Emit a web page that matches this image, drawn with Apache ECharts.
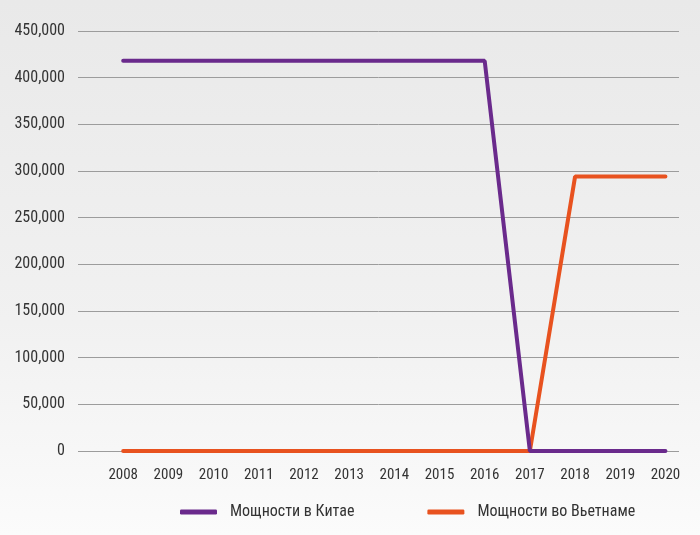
<!DOCTYPE html>
<html>
<head>
<meta charset="utf-8">
<script src="https://cdn.jsdelivr.net/npm/echarts@6/dist/echarts.min.js"></script>
<style>
  html, body { margin: 0; padding: 0; }
  #chart { width: 700px; height: 535px; }
</style>
</head>
<body>
<div id="chart"></div>
<script>
// годы по оси X
var years = [2008, 2009, 2010, 2011, 2012, 2013, 2014, 2015, 2016, 2017, 2018, 2019, 2020];
// мощности, значения
var chinaValues   = [418000, 418000, 418000, 418000, 418000, 418000, 418000, 418000, 418000, 0, 0, 0, 0];
var vietnamValues = [0, 0, 0, 0, 0, 0, 0, 0, 0, 0, 294000, 294000, 294000];
var seriesNames = ['Мощности в Китае', 'Мощности во Вьетнаме'];

var font = "'Roboto Condensed', 'DejaVu Sans Condensed', sans-serif";

function pairs(vals) {
	var out = [];
	for (var i = 0; i < years.length; i++) {
		out.push([years[i], vals[i]]);
	}
	return out;
}

var myChart = echarts.init(document.getElementById('chart'));

var option = {
	backgroundColor: {
		type: 'linear', x: 0, y: 0, x2: 0, y2: 1,
		colorStops: [
			{ offset: 0, color: '#e9e9e9' },
			{ offset: 0.6, color: '#f1f1f1' },
			{ offset: 1, color: '#fbfbfb' }
		]
	},
	animation: false,
	grid: { left: 78, right: 21, top: 31, bottom: 84 },
	legend: {
		bottom: 10,
		left: 175,
		itemGap: 73,
		itemWidth: 37,
		itemHeight: 5,
		icon: 'roundRect',
		textStyle: { fontFamily: font, fontSize: 16, color: '#333', padding: [0, 0, 0, 8] },
		data: seriesNames
	},
	xAxis: {
		type: 'value',
		min: 2007,
		max: 2020.3,
		interval: 1,
		axisLine: { show: false },
		axisTick: { show: false },
		splitLine: { show: false },
		axisLabel: {
			margin: 17,
			fontFamily: font,
			fontSize: 15,
			color: '#333',
			showMinLabel: false,
			showMaxLabel: false,
			formatter: function (v) {
				return (v % 1 === 0 && v > 2007) ? String(v) : '';
			}
		}
	},
	yAxis: {
		type: 'value',
		min: 0,
		max: 450000,
		interval: 50000,
		axisLine: { show: false },
		axisTick: { show: false },
		splitLine: { lineStyle: { color: '#9c9c9c', width: 1 } },
		axisLabel: {
			margin: 13,
			fontFamily: font,
			fontSize: 16,
			color: '#333',
			formatter: function (v) {
				return v.toString().replace(/\B(?=(\d{3})+(?!\d))/g, ',');
			}
		}
	},
	series: [{
		name: seriesNames[0],
		type: 'line',
		data: pairs(chinaValues),
		symbol: 'none',
		z: 3,
		itemStyle: { color: '#6a2a8c' },
		lineStyle: { color: '#6a2a8c', width: 4, cap: 'round' }
	}, {
		name: seriesNames[1],
		type: 'line',
		data: pairs(vietnamValues),
		symbol: 'none',
		z: 2,
		itemStyle: { color: '#e8521f' },
		lineStyle: { color: '#e8521f', width: 4, cap: 'round' }
	}]
};
myChart.setOption(option);
</script>
</body>
</html>
